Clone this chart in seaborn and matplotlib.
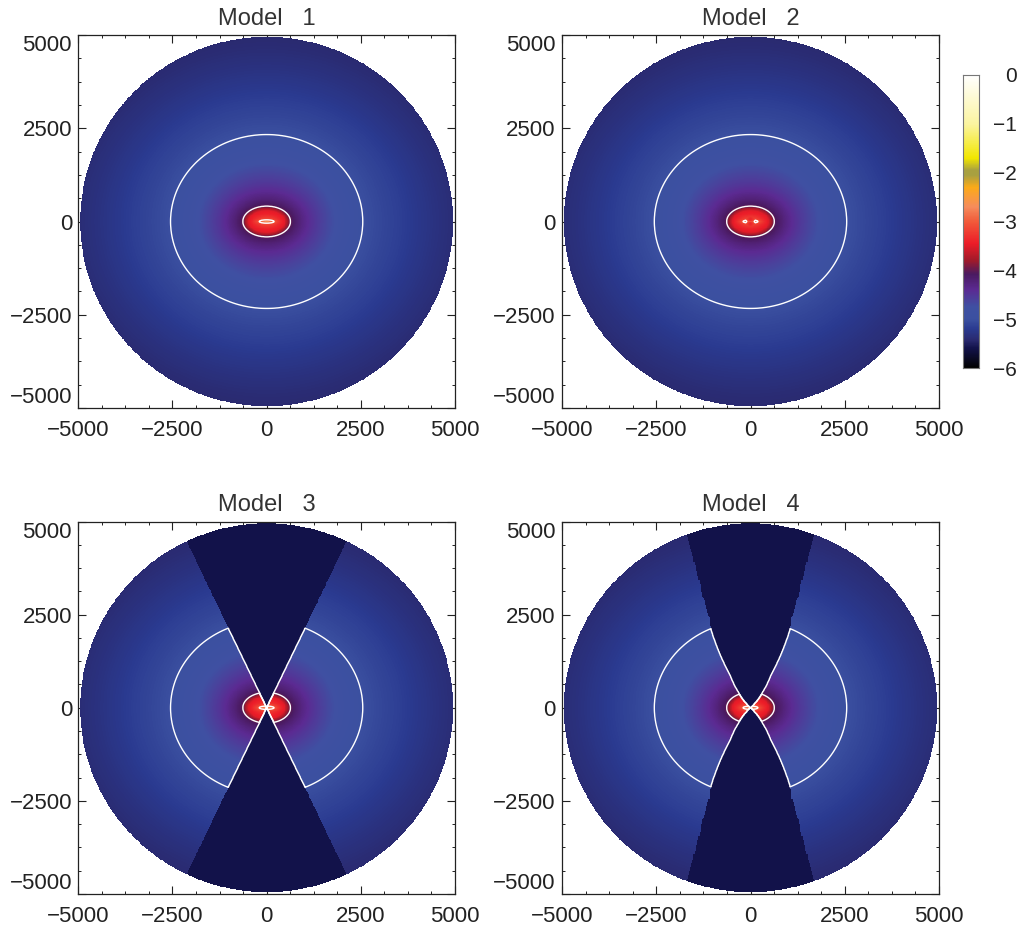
import numpy as np
import matplotlib
matplotlib.use("Agg")
import matplotlib.pyplot as plt
from matplotlib.colors import LinearSegmentedColormap
import seaborn as sns

# log density levels with the half axes of their ellipses
levels = [-2.6, -3.0, -3.5, -4.0, -4.4, -4.7, -5.0, -5.15, -5.28, -5.38, -5.46]
half_x = [25, 200, 480, 630, 1100, 1700, 2550, 3500, 4300, 5000, 5700]
half_y = [8, 45, 290, 410, 830, 1450, 2330, 3200, 3950, 4620, 5300]

# model 2 has a small dip right at the centre: depth and radius
center_dip = {"Model   2": (-0.55, 130)}

# half opening of the empty cone from the pole (degrees) against radius
cone_r_3 = [0, 5000]
cone_deg_3 = [25.4, 25.4]
cone_r_4 = [0, 250, 500, 1000, 2300, 2700, 2701, 3200, 3201, 3700, 3701, 4200, 4201, 5000]
cone_deg_4 = [48, 43, 38, 32, 26.6, 24.0, 24.6, 22.6, 23.2, 21.4, 22.0, 20.5, 21.0, 19.8]
cones = {"Model   3": (cone_r_3, cone_deg_3), "Model   4": (cone_r_4, cone_deg_4)}

model_names = ["Model   1", "Model   2", "Model   3", "Model   4"]
contour_levels = [-5, -4, -3]
major_ticks = [-5000, -2500, 0, 2500, 5000]
cbar_ticks = [0, -1, -2, -3, -4, -5, -6]
cone_value = -5.6

cmap_values = [-6, -5.85, -5.6, -5.42, -5.2, -5.0, -4.75, -4.4, -4.08, -3.8, -3.45, -3.0,
               -2.7, -2.3, -2.05, -1.95, -1.7, -1.0, 0]
cmap_colors = ["#000000", "#07071c", "#12124a", "#2a2a70", "#2a3a90", "#3b50a0", "#3f50a2",
               "#5b2a92", "#4a1a60", "#a01a2a", "#ec1c28", "#f15a3a", "#f58c5c", "#fbaa19",
               "#a8a040", "#a8a040", "#f2e600", "#fbf4a0", "#ffffff"]
cmap = LinearSegmentedColormap.from_list(
    "density", [((v + 6) / 6, c) for v, c in zip(cmap_values, cmap_colors)], N=512)

sns.set_theme(style="ticks")
plt.rcParams["font.family"] = ["Liberation Sans", "DejaVu Sans"]

W, H = 1022, 932
fig = plt.figure(figsize=(W / 100, H / 100), dpi=100)


def px_axes(x0, y0, x1, y1):
    return fig.add_axes([x0 / W, 1 - y1 / H, (x1 - x0) / W, (y1 - y0) / H])


n = 800
disk_r = 4950
edge = np.linspace(-5000, 5000, n + 1)
centers = (edge[:-1] + edge[1:]) / 2
xx, yy = np.meshgrid(centers, centers[::-1])
rr = np.hypot(xx, yy)
th = np.degrees(np.arctan2(np.abs(yy), np.abs(xx)))

# for every cell find the level whose ellipse passes through it
log_g = np.log(np.stack([(xx / a) ** 2 + (yy / b) ** 2 for a, b in zip(half_x, half_y)]))
outer = np.clip((log_g > 0).sum(axis=0), 1, len(levels) - 1)[None]
g_in = np.take_along_axis(log_g, outer - 1, axis=0)[0]
g_out = np.take_along_axis(log_g, outer, axis=0)[0]
step = np.clip(g_in / (g_in - g_out), 0, 1)
z_in = np.asarray(levels)[outer[0] - 1]
z_out = np.asarray(levels)[outer[0]]
base_map = z_in + step * (z_out - z_in)


def density_map(name):
    z = base_map.copy()
    if name in center_dip:
        depth, dip_r = center_dip[name]
        z = z + depth * np.clip(1 - rr / dip_r, 0, 1)
    if name in cones:
        cone_r, cone_deg = cones[name]
        z = np.where(90 - th < np.interp(rr, cone_r, cone_deg), cone_value, z)
    return z


panels = {"Model   1": (78.3, 35, 455, 408), "Model   2": (562, 35, 939, 408),
          "Model   3": (78.3, 521.5, 455, 894), "Model   4": (562, 521.5, 939, 894)}

for name in model_names:
    ax = px_axes(*panels[name])
    z = density_map(name)
    sns.heatmap(z, mask=rr > disk_r, cmap=cmap, vmin=-6, vmax=0, cbar=False, ax=ax,
                xticklabels=False, yticklabels=False)
    cell = np.arange(n) + 0.5
    ax.contour(cell, cell, z, levels=contour_levels, colors="white", linewidths=1.0,
               linestyles="solid")

    to_cell_x = lambda v: (np.asarray(v) + 5000) / 10000 * n
    to_cell_y = lambda v: (5000 - np.asarray(v)) / 10000 * n
    labels = [str(t).replace("-", "\u2212") for t in major_ticks]
    minor = np.arange(-5000, 5001, 625)
    ax.set_xticks(to_cell_x(major_ticks))
    ax.set_xticklabels(labels, rotation=0)
    ax.set_yticks(to_cell_y(major_ticks))
    ax.set_yticklabels(labels, rotation=0)
    ax.set_xticks(to_cell_x(minor), minor=True)
    ax.set_yticks(to_cell_y(minor), minor=True)
    ax.tick_params(which="major", direction="in", length=6, width=0.8, color="#222222",
                   top=True, right=True, labelsize=16, labelcolor="#222222")
    ax.tick_params(which="minor", direction="in", length=2.5, width=0.7, color="#222222",
                   top=True, right=True)
    ax.tick_params(axis="x", which="major", pad=9)
    ax.tick_params(axis="y", which="major", pad=4.5)
    y_labels = ax.get_yticklabels()
    y_labels[0].set_verticalalignment("bottom")
    y_labels[-1].set_verticalalignment("top")
    for side in ax.spines.values():
        side.set_visible(True)
        side.set_linewidth(0.9)
        side.set_color("#222222")
    ax.set_title(name, fontsize=17, color="#333333", pad=7.5)

# colour bar
cax = px_axes(962.5, 75, 979, 368)
bar = np.linspace(0, -6, 512)[:, None]
sns.heatmap(bar, cmap=cmap, vmin=-6, vmax=0, cbar=False, ax=cax,
            xticklabels=False, yticklabels=False)
cax.yaxis.tick_right()
cax.set_yticks([(0 - t) / 6 * 512 for t in cbar_ticks])
cax.set_yticklabels([str(t).replace("-", "\u2212") for t in cbar_ticks], rotation=0, ha="right")
cax.tick_params(axis="y", direction="in", length=3, width=0.7, color="#222222",
                labelsize=15, labelcolor="#222222", pad=27)
cax.set_xticks([])
for side in cax.spines.values():
    side.set_visible(True)
    side.set_linewidth(0.8)
    side.set_color("#777777")

fig.savefig("out.png", dpi=100)
